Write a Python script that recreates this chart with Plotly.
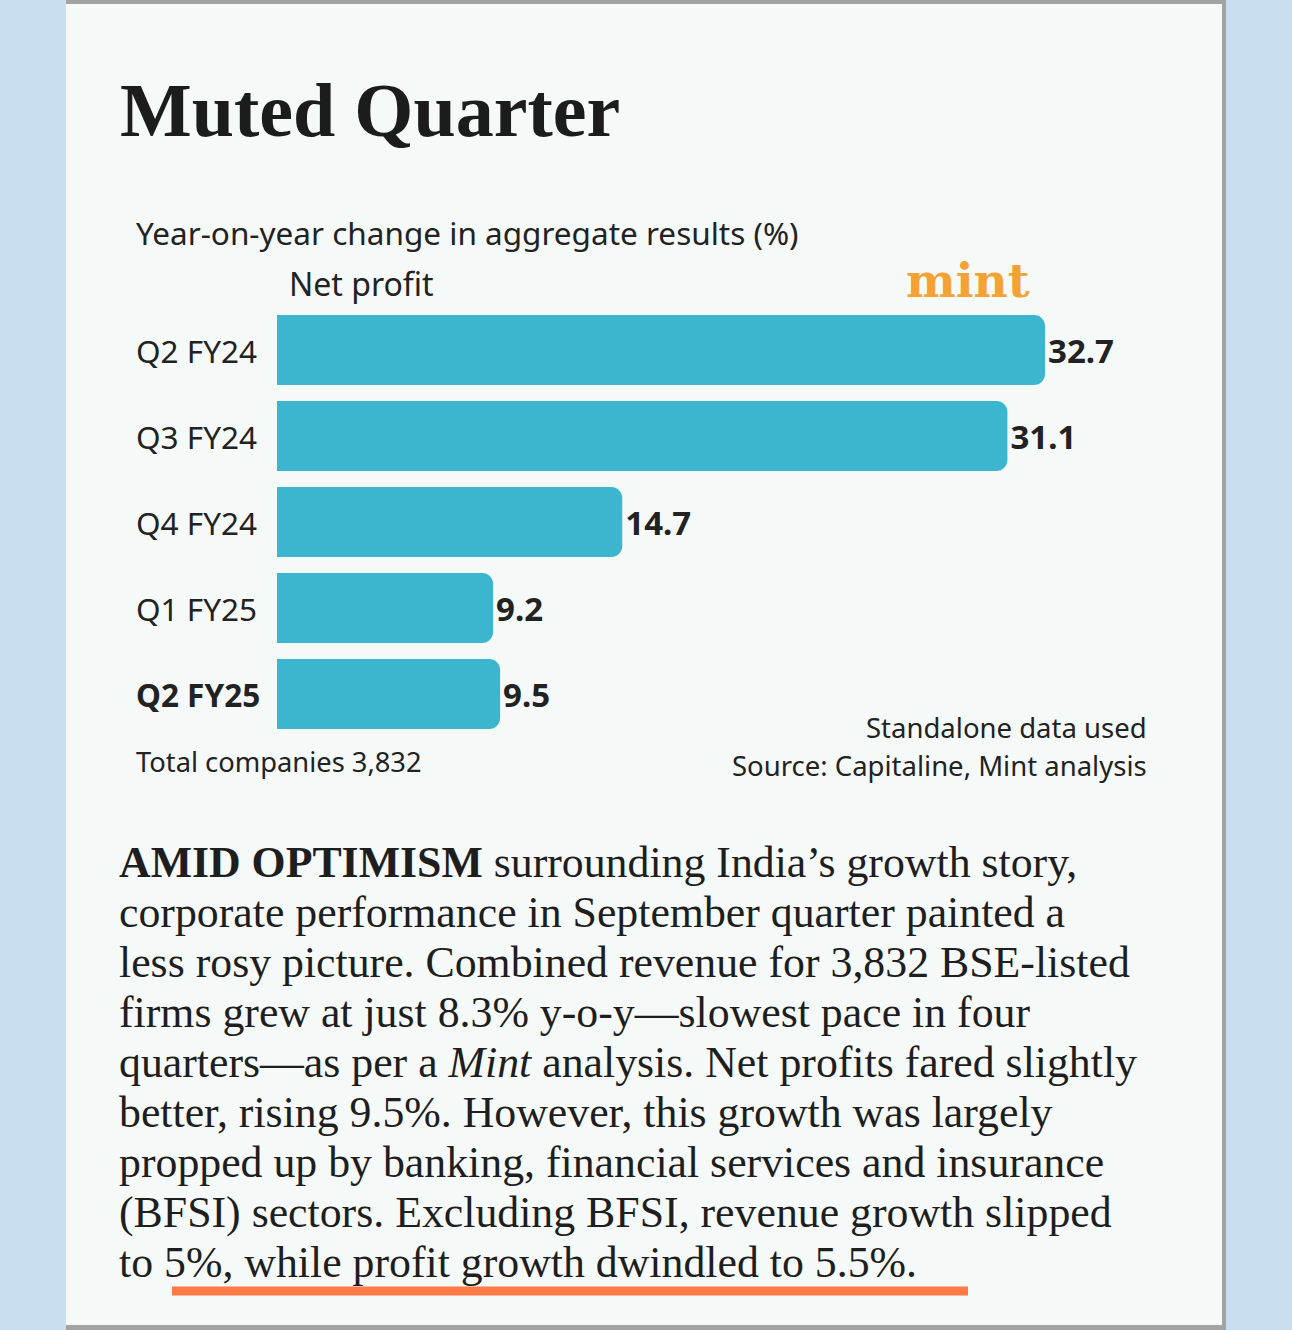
import plotly.graph_objects as go

W, H = 1292, 1330

# ---- data ----
categories = ["Q2 FY24", "Q3 FY24", "Q4 FY24", "Q1 FY25", "Q2 FY25"]
net_profit = [32.7, 31.1, 14.7, 9.2, 9.5]
highlight = "Q2 FY25"
value_labels = [f"{v}" for v in net_profit]

title = "Muted Quarter"
subtitle = "Year-on-year change in aggregate results (%)"
series_name = "Net profit"
footnote_left = "Total companies 3,832"
footnote_right = ["Standalone data used", "Source: Capitaline, Mint analysis"]
body_lines = [
    "<b>AMID OPTIMISM</b> surrounding India’s growth story,",
    "corporate performance in September quarter painted a",
    "less rosy picture. Combined revenue for 3,832 BSE-listed",
    "firms grew at just 8.3% y-o-y—slowest pace in four",
    "quarters—as per a <i>Mint</i> analysis. Net profits fared slightly",
    "better, rising 9.5%. However, this growth was largely",
    "propped up by banking, financial services and insurance",
    "(BFSI) sectors. Excluding BFSI, revenue growth slipped",
    "to 5%, while profit growth dwindled to 5.5%.",
]

SANS = "Noto Sans, Open Sans, sans-serif"
SERIF = "Liberation Serif, Times New Roman, serif"
BAR = "#3cb6cf"
INK = "#222222"


def px(x):
    return x / W


def py(y):
    return 1 - y / H


fig = go.Figure()
fig.add_trace(go.Bar(
    y=categories,
    x=net_profit,
    orientation="h",
    marker=dict(color=BAR, cornerradius=11, line=dict(width=0)),
    text=value_labels,
    textposition="outside",
    textfont=dict(family=SANS, size=33, color=INK, weight="bold"),
    cliponaxis=False,
    constraintext="none",
    hoverinfo="skip",
))

shapes = [
    # card
    dict(type="rect", xref="paper", yref="paper", x0=px(66), x1=px(1226), y0=py(1330), y1=py(0),
         fillcolor="#a3a3a3", line=dict(width=0), layer="below"),
    dict(type="rect", xref="paper", yref="paper", x0=px(66), x1=px(1222), y0=py(1325), y1=py(4),
         fillcolor="#f5f9f7", line=dict(width=0), layer="below"),
    # underline
    dict(type="line", xref="paper", yref="paper", x0=px(172), x1=px(968), y0=py(1291), y1=py(1291),
         line=dict(color="#ff7a45", width=9)),
]

ann = []
ann.append(dict(text=title, x=px(118), y=py(110), xanchor="left", yanchor="middle",
                font=dict(family=SERIF, size=76, color="#1c1c1c", weight="bold")))
ann.append(dict(text=subtitle, x=px(134), y=py(233), xanchor="left", yanchor="middle",
                font=dict(family=SANS, size=31.5, color=INK)))
ann.append(dict(text=series_name, x=px(287), y=py(283), xanchor="left", yanchor="middle",
                font=dict(family=SANS, size=32, color=INK)))
ann.append(dict(text="mint", x=px(1032), y=py(280), xanchor="right", yanchor="middle",
                font=dict(family="DejaVu Serif, serif", size=47, color="#f4a233", weight="bold")))
for c in categories:
    ann.append(dict(text=f"<b>{c}</b>" if c == highlight else c, xref="paper", yref="y",
                    x=px(134), y=c, xanchor="left", yanchor="middle",
                    font=dict(family=SANS, size=31.5, color=INK)))
ann.append(dict(text=footnote_left, x=px(134), y=py(762), xanchor="left", yanchor="middle",
                font=dict(family=SANS, size=27.3, color=INK)))
for i, t in enumerate(footnote_right):
    ann.append(dict(text=t, x=px(1149), y=py(727 + 38 * i), xanchor="right", yanchor="middle",
                    font=dict(family=SANS, size=27.5, color=INK)))
for i, line in enumerate(body_lines):
    ann.append(dict(text=line, x=px(117), y=py(862 + 50 * i), xanchor="left", yanchor="middle",
                    font=dict(family=SERIF, size=43.8, color="#1e1e1e")))
for a in ann:
    a.setdefault("xref", "paper")
    a.setdefault("yref", "paper")
    a["showarrow"] = False

fig.update_layout(
    width=W, height=H,
    margin=dict(l=0, r=0, t=0, b=0),
    paper_bgcolor="#c8dff0",
    plot_bgcolor="rgba(0,0,0,0)",
    showlegend=False,
    bargap=0.186,
    xaxis=dict(domain=[px(277), px(1146)], range=[0, 37.0], visible=False, fixedrange=True),
    yaxis=dict(domain=[py(737), py(307)], autorange="reversed", visible=False, fixedrange=True),
    shapes=shapes,
    annotations=ann,
)

fig.write_html("out.html", config={"displayModeBar": False},
               post_script="document.body.style.margin='0';")
